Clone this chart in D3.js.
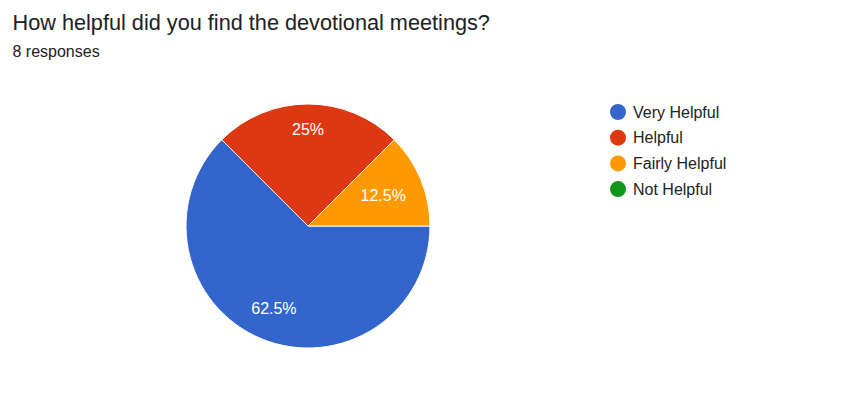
<!DOCTYPE html>
<html><head><meta charset="utf-8">
<script src="https://cdn.jsdelivr.net/npm/d3@7"></script>
<style>html,body{margin:0;padding:0;background:#fff;}svg{display:block;}</style>
</head><body>
<script>
const categories = ["Very Helpful", "Helpful", "Fairly Helpful", "Not Helpful"];
const counts = [5, 2, 1, 0];
const colors = ["#3366cc", "#dc3912", "#ff9900", "#109618"];
const title = "How helpful did you find the devotional meetings?";
const subtitle = "8 responses";

const W = 858, H = 403;
const FONT = "'Liberation Sans', Arial, Helvetica, sans-serif";
const svg = d3.select("body").append("svg").attr("width", W).attr("height", H);

svg.append("text").attr("x", 12.5).attr("y", 30)
  .attr("font-family", FONT).attr("font-size", 21.7)
  .attr("fill", "#202124").text(title);
svg.append("text").attr("x", 12.5).attr("y", 56.5)
  .attr("font-family", FONT).attr("font-size", 16)
  .attr("fill", "#202124").text(subtitle);

const cx = 308, cy = 226, R = 122;
const total = d3.sum(counts);
const data = categories.map((c, i) => ({cat: c, value: counts[i], color: colors[i]}));
const pie = d3.pie().value(d => d.value).sort(null)
  .startAngle(Math.PI / 2).endAngle(Math.PI / 2 + 2 * Math.PI);
const arcs = pie(data);
const arc = d3.arc().innerRadius(0).outerRadius(R);
const g = svg.append("g").attr("transform", `translate(${cx},${cy})`);
g.selectAll("path").data(arcs.filter(a => a.data.value > 0)).join("path")
  .attr("d", arc).attr("fill", d => d.data.color)
  .attr("stroke", "#fff").attr("stroke-width", 1);

const labelR = [0.73, 0.79, 0.667];
g.selectAll("text.lbl").data(arcs.filter(a => a.data.value > 0)).join("text")
  .attr("class", "lbl")
  .attr("transform", (d, i) => {
    const a = (d.startAngle + d.endAngle) / 2;
    const r = R * labelR[i];
    return `translate(${r * Math.sin(a)},${-r * Math.cos(a)})`;
  })
  .attr("text-anchor", "middle").attr("dy", "0.36em")
  .attr("font-family", FONT).attr("font-size", 16)
  .attr("fill", "#fff")
  .text(d => d3.format(".3~")(d.data.value / total * 100) + "%");

const leg = svg.append("g").attr("transform", "translate(618,112)");
const items = leg.selectAll("g").data(data).join("g")
  .attr("transform", (d, i) => `translate(0,${i * 25.7})`);
items.append("circle").attr("r", 8).attr("fill", d => d.color);
items.append("text").attr("x", 15).attr("dy", "0.36em")
  .attr("font-family", FONT).attr("font-size", 16)
  .attr("fill", "#222").text(d => d.cat);
</script>
</body></html>
